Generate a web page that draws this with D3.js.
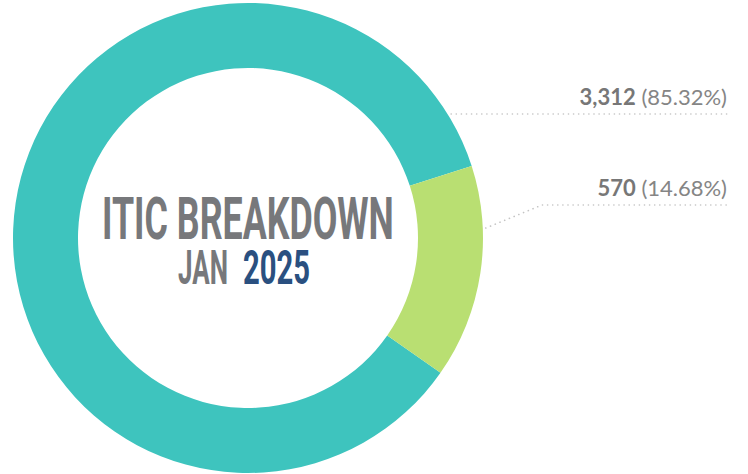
<!DOCTYPE html>
<html>
<head>
<meta charset="utf-8">
<script src="https://cdn.jsdelivr.net/npm/d3@7"></script>
<style>
  body { margin: 0; background: #fff; }
</style>
</head>
<body>
<div id="chart"></div>
<script>
// Data
const categories = ["A", "B"];
const values = [3312, 570];
const sliceColors = ["#3ec4be", "#b9df72"];
const titleLine1 = "ITIC BREAKDOWN";
const titleMonth = "JAN";
const titleYear = "2025";

const width = 748;
const height = 474;
const cx = 248, cy = 238;
const outerRadius = 235;
const innerRadius = 170;

const svg = d3.select("#chart")
    .append("svg")
    .attr("width", width)
    .attr("height", height);

const g = svg.append("g")
    .attr("transform", `translate(${cx},${cy})`);

const total = d3.sum(values);
const rows = categories.map((c, i) => ({ key: c, value: values[i], color: sliceColors[i] }));

// Green slice sits on the right side, teal wraps around the rest
const startDeg = 125;
const pie = d3.pie()
    .value(d => d.value)
    .sort(null)
    .startAngle(startDeg * Math.PI / 180)
    .endAngle(startDeg * Math.PI / 180 + 2 * Math.PI);

const arc = d3.arc()
    .innerRadius(innerRadius)
    .outerRadius(outerRadius);

g.selectAll("path.slice")
    .data(pie(rows))
    .join("path")
    .attr("class", "slice")
    .attr("fill", d => d.data.color)
    .attr("d", arc);

// Center title, condensed by scaling the text horizontally
const titleFont = "Roboto, 'Liberation Sans Narrow', sans-serif";
function squeezed(x, y, w, size, color, str) {
    const t = g.append("text")
        .style("font-family", titleFont)
        .style("font-weight", "bold")
        .style("font-size", size + "px")
        .style("fill", color)
        .text(str);
    const natural = t.node().getComputedTextLength();
    t.attr("transform", `translate(${x},${y}) scale(${w / natural},1)`);
    return t;
}
squeezed(-146, 1, 292, 59, "#77787b", titleLine1);
squeezed(-70, 46, 50, 48, "#77787b", titleMonth);
squeezed(-5, 46, 67, 48, "#2a5080", titleYear);

// Labels with dotted leaders
const labelRight = 727;
const lineRight = 731;
const lineY = [114, 205];
const anchorDeg = [58.6, 87.6];
const elbowX = [null, 542];

const fmt = d3.format(",");
const pct = d3.format(".2%");

rows.forEach((d, i) => {
    const a = anchorDeg[i] * Math.PI / 180;
    const r = outerRadius + 3;
    const sx = cx + r * Math.sin(a);
    const sy = cy - r * Math.cos(a);
    const pts = elbowX[i] ? [[sx, sy], [elbowX[i], lineY[i]], [lineRight, lineY[i]]]
                          : [[sx, lineY[i]], [lineRight, lineY[i]]];
    svg.append("path")
        .attr("d", d3.line()(pts))
        .attr("fill", "none")
        .attr("stroke", "#c4c4c4")
        .attr("stroke-width", 1.6)
        .attr("stroke-linecap", "round")
        .attr("stroke-dasharray", "0.1 5");

    const t = svg.append("text")
        .attr("x", labelRight)
        .attr("y", lineY[i] - 9)
        .attr("text-anchor", "end")
        .style("font-family", "Lato, 'Open Sans', sans-serif")
        .style("font-size", "22px");
    t.append("tspan").style("font-weight", "bold").style("fill", "#777").text(fmt(d.value));
    t.append("tspan").style("font-weight", "normal").style("fill", "#858585")
        .text(" (" + pct(d.value / total) + ")");
});
</script>
</body>
</html>
